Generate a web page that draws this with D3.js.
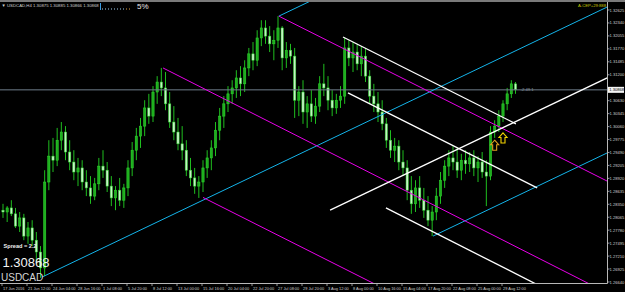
<!DOCTYPE html>
<html>
<head>
<meta charset="utf-8">
<script src="https://cdnjs.cloudflare.com/ajax/libs/d3/7.8.5/d3.min.js"></script>
<style>
  html, body { margin: 0; padding: 0; background: #000; }
  svg { display: block; }
  text { font-family: "Liberation Sans", Arial, sans-serif; }
</style>
</head>
<body>
<svg id="chart" width="625" height="292"></svg>
<script>
// USDCAD H4, one entry per bar
const opens = [1.2822,1.2818,1.2827,1.2814,1.2787,1.2805,1.2765,1.2783,1.2756,1.2730,
  1.2695,1.2884,1.2941,1.2932,1.2976,1.2994,1.2950,1.2928,1.2906,1.2915,
  1.2884,1.2871,1.2853,1.2880,1.2919,1.2910,1.2875,1.2849,1.2866,1.2844,
  1.2871,1.2915,1.2954,1.2985,1.3007,1.3047,1.3029,1.3082,1.3104,1.3091,
  1.3056,1.3016,1.2994,1.2968,1.2954,1.2910,1.2893,1.2875,1.2884,1.2915,
  1.2937,1.2959,1.2998,1.3029,1.3056,1.3078,1.3091,1.3113,1.3100,1.3135,
  1.3166,1.3152,1.3201,1.3223,1.3205,1.3188,1.3196,1.3223,1.3157,1.3174,
  1.3161,1.3064,1.3082,1.3038,1.3056,1.3029,1.3051,1.3100,1.3091,1.3064,
  1.3047,1.3064,1.3073,1.3179,1.3157,1.3170,1.3144,1.3161,1.3117,1.3073,
  1.3056,1.3038,1.3012,1.2976,1.2954,1.2963,1.2928,1.2915,1.2866,1.2836,
  1.2871,1.2844,1.2822,1.2800,1.2818,1.2853,1.2888,1.2919,1.2937,1.2928,
  1.2910,1.2932,1.2924,1.2937,1.2915,1.2928,1.2906,1.2897,1.2994,1.3007,
  1.3029,1.3056,1.3078,1.3100];
const highs = [1.2836,1.2831,1.2844,1.2827,1.2818,1.2814,1.2796,1.2800,1.2774,1.2743,
  1.2910,1.2976,1.2981,1.3003,1.3016,1.3007,1.2976,1.2954,1.2937,1.2932,
  1.2910,1.2897,1.2893,1.2937,1.2954,1.2928,1.2897,1.2875,1.2893,1.2880,
  1.2932,1.2972,1.3003,1.3025,1.3064,1.3078,1.3095,1.3117,1.3135,1.3126,
  1.3082,1.3051,1.3025,1.3007,1.2976,1.2937,1.2915,1.2897,1.2932,1.2954,
  1.2976,1.3016,1.3047,1.3073,1.3095,1.3108,1.3130,1.3139,1.3152,1.3179,
  1.3192,1.3218,1.3240,1.3240,1.3227,1.3218,1.3249,1.3227,1.3192,1.3188,
  1.3179,1.3095,1.3108,1.3073,1.3086,1.3069,1.3117,1.3144,1.3117,1.3086,
  1.3078,1.3095,1.3201,1.3196,1.3192,1.3188,1.3183,1.3179,1.3130,1.3100,
  1.3082,1.3064,1.3025,1.2998,1.2981,1.2976,1.2954,1.2932,1.2897,1.2888,
  1.2897,1.2871,1.2853,1.2831,1.2871,1.2906,1.2932,1.2954,1.2963,1.2959,
  1.2946,1.2954,1.2950,1.2954,1.2941,1.2950,1.2932,1.3007,1.3020,1.3042,
  1.3064,1.3091,1.3108,1.3104];
const lows = [1.2805,1.2796,1.2809,1.2783,1.2774,1.2756,1.2748,1.2743,1.2708,1.2673,
  1.2677,1.2866,1.2906,1.2919,1.2954,1.2932,1.2910,1.2888,1.2875,1.2866,
  1.2853,1.2836,1.2844,1.2866,1.2893,1.2862,1.2831,1.2822,1.2831,1.2827,
  1.2853,1.2897,1.2932,1.2959,1.2985,1.3012,1.3016,1.3056,1.3073,1.3042,
  1.3003,1.2976,1.2954,1.2932,1.2897,1.2875,1.2858,1.2849,1.2862,1.2893,
  1.2910,1.2941,1.2976,1.3003,1.3038,1.3056,1.3069,1.3073,1.3082,1.3117,
  1.3130,1.3139,1.3183,1.3188,1.3170,1.3152,1.3179,1.3130,1.3135,1.3144,
  1.3025,1.3029,1.3012,1.3003,1.3016,1.3012,1.3038,1.3073,1.3042,1.3029,
  1.3034,1.3047,1.3056,1.3139,1.3126,1.3130,1.3117,1.3104,1.3056,1.3038,
  1.3016,1.2998,1.2959,1.2937,1.2928,1.2910,1.2897,1.2844,1.2814,1.2818,
  1.2827,1.2805,1.2787,1.2765,1.2800,1.2836,1.2871,1.2897,1.2910,1.2893,
  1.2888,1.2902,1.2906,1.2897,1.2884,1.2893,1.2831,1.2888,1.2981,1.2994,
  1.3016,1.3042,1.3069,1.3078];
const closes = [1.2818,1.2827,1.2814,1.2787,1.2805,1.2765,1.2783,1.2756,1.2730,1.2695,
  1.2884,1.2941,1.2932,1.2976,1.2994,1.2950,1.2928,1.2906,1.2915,1.2884,
  1.2871,1.2853,1.2880,1.2919,1.2910,1.2875,1.2849,1.2866,1.2844,1.2871,
  1.2915,1.2954,1.2985,1.3007,1.3047,1.3029,1.3082,1.3104,1.3091,1.3056,
  1.3016,1.2994,1.2968,1.2954,1.2910,1.2893,1.2875,1.2884,1.2915,1.2937,
  1.2959,1.2998,1.3029,1.3056,1.3078,1.3091,1.3113,1.3100,1.3135,1.3166,
  1.3152,1.3201,1.3223,1.3205,1.3188,1.3196,1.3223,1.3157,1.3174,1.3161,
  1.3064,1.3082,1.3038,1.3056,1.3029,1.3051,1.3100,1.3091,1.3064,1.3047,
  1.3064,1.3073,1.3179,1.3157,1.3170,1.3144,1.3161,1.3117,1.3073,1.3056,
  1.3038,1.3012,1.2976,1.2954,1.2963,1.2928,1.2915,1.2866,1.2836,1.2871,
  1.2844,1.2822,1.2800,1.2818,1.2853,1.2888,1.2919,1.2937,1.2928,1.2910,
  1.2932,1.2924,1.2937,1.2915,1.2928,1.2906,1.2897,1.2994,1.3007,1.3029,
  1.3056,1.3078,1.3100,1.30868];

const bidPrice = 1.30868;
const priceTicks = [1.26640,1.26925,1.27210,1.27495,1.27780,1.28065,1.28350,1.28635,
  1.28920,1.29205,1.29490,1.29775,1.30060,1.30345,1.30630,1.30915,1.31200,1.31485,
  1.31770,1.32055,1.32340,1.32625];
const timeTickBars = [0,6,12,18,24,30,36,42,48,54,60,66,72,78,84,90,96,102,108,114,120];
const timeLabels = ["17 Jun 2016","21 Jun 12:00","24 Jun 04:00","28 Jun 16:00","1 Jul 08:00",
  "5 Jul 20:00","8 Jul 12:00","13 Jul 00:00","15 Jul 16:00","20 Jul 04:00","22 Jul 20:00",
  "27 Jul 08:00","29 Jul 20:00","3 Aug 12:00","8 Aug 00:00","10 Aug 16:00","15 Aug 04:00",
  "17 Aug 20:00","22 Aug 08:00","25 Aug 00:00","29 Aug 12:00"];

// trendline objects: [bar, price] -> [bar, price]
const cyanLines = [
  [[9.4, 1.2675], [145, 1.3269]],
  [[66.2, 1.3249], [145, 1.3594]],
  [[103.2, 1.2765], [145, 1.2948]]
];
const magentaLines = [
  [[66.2, 1.3249], [145, 1.2886]],
  [[38.4, 1.3135], [145, 1.2640]],
  [[48, 1.2850], [145, 1.2402]]
];
const whiteLines = [
  [[81.6, 1.3203], [123.1, 1.3012]],
  [[82.8, 1.3080], [128.2, 1.2871]],
  [[78.5, 1.2822], [145, 1.3113]],
  [[91.9, 1.2827], [128.9, 1.2655]]
];
const arrowBars = [118, 120];
const arrowPrices = [1.2976, 1.2992];
const arrowColors = ["#e0a020", "#f2d200"];

const W = 625, H = 292;
const plotR = 607, plotB = 283, plotT = 2;

const svg = d3.select("#chart");
svg.append("rect").attr("width", W).attr("height", H).attr("fill", "#000");
svg.append("rect").attr("width", W).attr("height", 2).attr("fill", "#7a7a7a");

const x = d3.scaleLinear().domain([0, 120]).range([3, 503]);
const y = d3.scaleLinear().domain([1.2664, 1.32625]).range([282, 10]);

svg.append("clipPath").attr("id", "plot")
  .append("rect").attr("x", 0).attr("y", plotT).attr("width", plotR).attr("height", plotB - plotT);

const plot = svg.append("g").attr("clip-path", "url(#plot)");

// candles
const bars = closes.map((c, i) => ({ i, o: opens[i], h: highs[i], l: lows[i], c }));
const bw = (x(1) - x(0)) * 0.55;
const candles = plot.append("g");
candles.selectAll("line").data(bars).enter().append("line")
  .attr("x1", d => x(d.i)).attr("x2", d => x(d.i))
  .attr("y1", d => y(d.h)).attr("y2", d => y(d.l))
  .attr("stroke", "#22d422").attr("stroke-width", 0.9);
candles.selectAll("rect").data(bars).enter().append("rect")
  .attr("x", d => x(d.i) - bw / 2)
  .attr("y", d => y(Math.max(d.o, d.c)))
  .attr("width", bw)
  .attr("height", d => Math.max(0.8, Math.abs(y(d.o) - y(d.c))))
  .attr("fill", d => d.c >= d.o ? "#1fae1f" : "#c4f2c4")
  .attr("stroke", "#2fd82f").attr("stroke-width", 0.5);

// bid line
plot.append("line")
  .attr("x1", 0).attr("x2", plotR)
  .attr("y1", y(bidPrice)).attr("y2", y(bidPrice))
  .attr("stroke", "#6f7d8c").attr("stroke-width", 1);

// trendlines
function drawLines(list, color, width) {
  plot.append("g").selectAll("line").data(list).enter().append("line")
    .attr("x1", d => x(d[0][0])).attr("y1", d => y(d[0][1]))
    .attr("x2", d => x(d[1][0])).attr("y2", d => y(d[1][1]))
    .attr("stroke", color).attr("stroke-width", width);
}
drawLines(cyanLines, "#14b4ea", 1);
drawLines(magentaLines, "#e800e8", 1);
drawLines(whiteLines, "#ffffff", 1.3);

// arrows (hollow up arrows)
const arrowPath = "M0,0 L4,4.5 L2,4.5 L2,10 L-2,10 L-2,4.5 L-4,4.5 Z";
plot.append("g").selectAll("path").data(arrowBars).enter().append("path")
  .attr("d", arrowPath)
  .attr("transform", (d, k) => `translate(${x(d)},${y(arrowPrices[k])})`)
  .attr("fill", "none")
  .attr("stroke", (d, k) => arrowColors[k]).attr("stroke-width", 1.1);

plot.append("text").attr("x", x(123) + 5).attr("y", y(bidPrice) + 1.5)
  .attr("font-size", 4.2).attr("fill", "#8a95a0").text("-2.49.1");

// axes frame
svg.append("line").attr("x1", plotR + 0.5).attr("x2", plotR + 0.5)
  .attr("y1", plotT).attr("y2", plotB + 0.5).attr("stroke", "#b8b8b8").attr("stroke-width", 1);
svg.append("line").attr("x1", 0).attr("x2", plotR + 0.5)
  .attr("y1", plotB + 0.5).attr("y2", plotB + 0.5).attr("stroke", "#b8b8b8").attr("stroke-width", 1);

// price axis (the tick under the bid box is hidden, like the terminal does)
const fmt = d3.format(".5f");
const shownTicks = priceTicks.filter(p => Math.abs(y(p) - y(bidPrice)) > 5);
const yAxis = svg.append("g");
yAxis.selectAll("line").data(priceTicks).enter().append("line")
  .attr("x1", plotR + 0.5).attr("x2", plotR + 2.5)
  .attr("y1", d => y(d)).attr("y2", d => y(d))
  .attr("stroke", "#b8b8b8").attr("stroke-width", 0.8);
yAxis.selectAll("text").data(shownTicks).enter().append("text")
  .attr("x", 609.5).attr("y", d => y(d) + 1.5)
  .attr("font-size", 4.1).attr("fill", "#cfcfcf").text(d => fmt(d));

// current price box
svg.append("rect").attr("x", 608).attr("y", y(bidPrice) - 3).attr("width", 16).attr("height", 6)
  .attr("fill", "#f4f4f4");
svg.append("text").attr("x", 609.3).attr("y", y(bidPrice) + 1.5)
  .attr("font-size", 4.1).attr("fill", "#000").text(fmt(bidPrice));

// time axis
const xAxis = svg.append("g");
xAxis.selectAll("line").data(timeTickBars).enter().append("line")
  .attr("x1", d => x(d) - 1).attr("x2", d => x(d) - 1)
  .attr("y1", plotB + 0.5).attr("y2", plotB + 3)
  .attr("stroke", "#b8b8b8").attr("stroke-width", 0.8);
xAxis.selectAll("text").data(timeTickBars).enter().append("text")
  .attr("x", d => x(d)).attr("y", 289.5)
  .attr("font-size", 3.9).attr("fill", "#cfcfcf")
  .text((d, k) => timeLabels[k]);

// header
svg.append("text").attr("x", 1.5).attr("y", 7).attr("font-size", 4.3).attr("fill", "#cfcfcf")
  .attr("font-family", "DejaVu Sans").text("\u25BC");
svg.append("text").attr("x", 7).attr("y", 7).attr("font-size", 4.3).attr("fill", "#cfcfcf")
  .text("USDCAD,H4  1.30875 1.30885 1.30866 1.30868");
svg.append("line").attr("x1", 100.5).attr("x2", 100.5).attr("y1", 3).attr("y2", 10)
  .attr("stroke", "#3c9be0").attr("stroke-width", 1);
const dots = d3.range(102, 130, 3);
svg.append("g").selectAll("rect").data(dots).enter().append("rect")
  .attr("x", d => d).attr("y", 8.5).attr("width", 1).attr("height", 1)
  .attr("fill", (d, k) => k >= dots.length - 2 ? "#e0a040" : "#9fd0f0");
svg.append("text").attr("x", 137).attr("y", 9).attr("font-size", 8).attr("fill", "#e6e6e6")
  .text("5%");
svg.append("text").attr("x", 606).attr("y", 7).attr("text-anchor", "end")
  .attr("font-size", 4.2).attr("fill", "#c8c800").text("A-CEP+29:888");

// bottom-left info
svg.append("text").attr("x", 3.5).attr("y", 248).attr("font-size", 5.6).attr("font-weight", "bold")
  .attr("fill", "#f0f0f0").text("Spread = 2.2");
svg.append("text").attr("x", 2.5).attr("y", 267).attr("font-size", 13).attr("fill", "#f4f4f4")
  .text(fmt(bidPrice));
svg.append("text").attr("x", 1).attr("y", 280.5).attr("font-size", 10).attr("fill", "#d6d6d6")
  .text("USDCAD");
</script>
</body>
</html>
